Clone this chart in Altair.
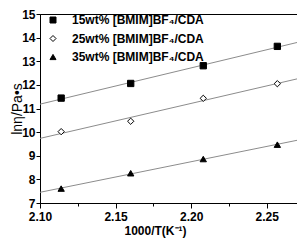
import altair as alt
import pandas as pd

x_vals = [2.114, 2.160, 2.208, 2.257]
s15 = [11.44, 12.06, 12.81, 13.63]
s25 = [10.02, 10.46, 11.43, 12.05]
s35 = [7.61, 8.26, 8.86, 9.47]
series_names = ["15wt% [BMIM]BF\u2084/CDA", "25wt% [BMIM]BF\u2084/CDA", "35wt% [BMIM]BF\u2084/CDA"]

rows = []
for name, ys in zip(series_names, [s15, s25, s35]):
    for xv, yv in zip(x_vals, ys):
        rows.append({"x": xv, "y": yv, "series": name})
df = pd.DataFrame(rows)

FONT = "Liberation Sans"

x_enc = alt.X(
    "x:Q",
    scale=alt.Scale(domain=[2.10, 2.27], nice=False, zero=False),
    axis=alt.Axis(
        title="1000/T(K\u207b\u00b9)",
        values=[2.10, 2.125, 2.15, 2.175, 2.20, 2.225, 2.25],
        labelExpr="round(datum.value*1000) % 50 == 0 ? format(datum.value, '.2f') : ''",
        tickSize={"condition": {"test": "round(datum.value*1000) % 50 == 0", "value": 5}, "value": 3},
        grid=False,
        labelFont=FONT, labelFontSize=12, labelFontWeight="bold", labelColor="black",
        labelPadding=3,
        titleFont=FONT, titleFontSize=12, titleFontWeight="bold", titleColor="black",
        titlePadding=3, titleX=115,
        domainColor="black", tickColor="black",
        labelFlush=False,
    ),
)
y_enc = alt.Y(
    "y:Q",
    scale=alt.Scale(domain=[7, 15], nice=False, zero=False),
    axis=alt.Axis(
        title="ln\u03b7/Pa\u2022s",
        values=list(range(7, 16)),
        tickSize=4, grid=False,
        labelFont=FONT, labelFontSize=12, labelFontWeight="bold", labelColor="black",
        labelPadding=1,
        titleFont=FONT, titleFontSize=14, titleFontWeight="normal", titleColor="black",
        titleX=-23, titleBaseline="middle",
        domainColor="black", tickColor="black",
    ),
)

fill_scale = alt.Scale(domain=series_names, range=["black", "white", "black"])
stroke_scale = alt.Scale(domain=series_names, range=["black", "black", "black"])
shape_scale = alt.Scale(domain=series_names, range=["square", "diamond", "triangle-up"])


def make_legend():
    return alt.Legend(
        title=None, orient="none", legendX=7, legendY=0,
        labelFont=FONT, labelFontSize=12, labelFontWeight="bold", labelColor="black",
        symbolStrokeWidth=1, symbolSize=36,
        labelOffset=13, rowPadding=6.5, padding=0, labelLimit=300,
    )


lines = alt.Chart(df).transform_regression(
    "x", "y", groupby=["series"], extent=[2.10, 2.27]
).mark_line(color="#8c8c8c", strokeWidth=1).encode(
    x=x_enc, y=y_enc, detail="series:N"
)

points = alt.Chart(df).mark_point(filled=False, strokeWidth=1, opacity=1, size=40).encode(
    x=x_enc,
    y=y_enc,
    shape=alt.Shape("series:N", scale=shape_scale, legend=make_legend()),
    fill=alt.Fill("series:N", scale=fill_scale, legend=make_legend()),
    stroke=alt.Stroke("series:N", scale=stroke_scale, legend=make_legend()),
)

chart = alt.layer(lines, points).properties(
    width=257, height=189,
    autosize=alt.AutoSizeParams(type="none"),
    padding={"left": 32, "top": 6, "right": 0, "bottom": 41},
    background="white",
).configure_view(stroke="black", strokeWidth=1)

chart.save("out.html", embed_options={"renderer": "svg", "actions": False})
